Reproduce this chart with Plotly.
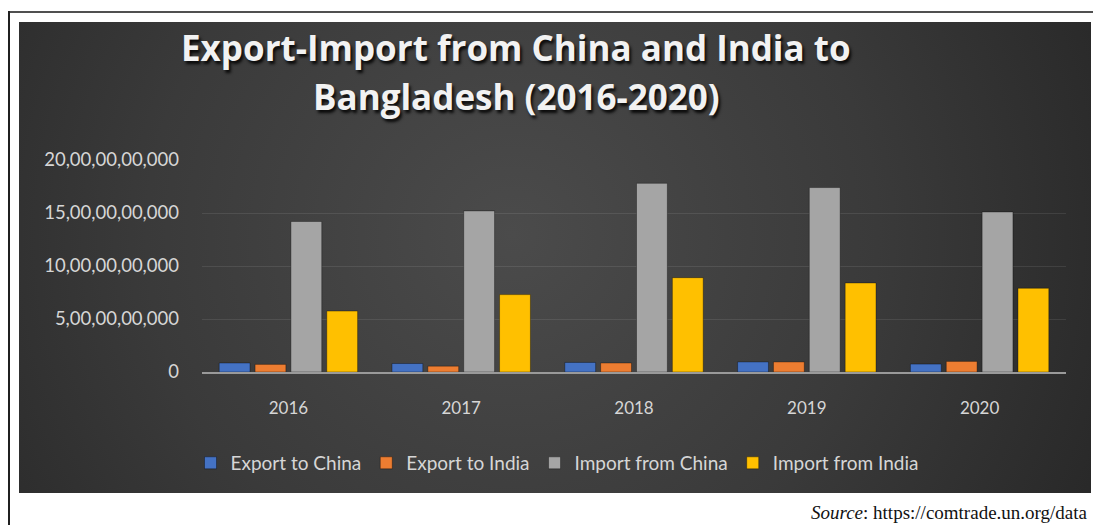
import base64
import plotly.graph_objects as go

years = ["2016", "2017", "2018", "2019", "2020"]
export_china = [0.85e9, 0.8e9, 0.9e9, 0.95e9, 0.75e9]
export_india = [0.72e9, 0.55e9, 0.85e9, 0.95e9, 1.0e9]
import_china = [14.2e9, 15.2e9, 17.8e9, 17.4e9, 15.1e9]
import_india = [5.75e9, 7.3e9, 8.9e9, 8.4e9, 7.9e9]

series_names = ["Export to China", "Export to India", "Import from China", "Import from India"]
series_colors = ["#4472C4", "#ED7D31", "#A5A5A5", "#FFC000"]

y_tickvals = [0, 5e9, 10e9, 15e9, 20e9]
y_ticktext = ["0", "5,00,00,00,000", "10,00,00,00,000", "15,00,00,00,000", "20,00,00,00,000"]

title_lines = ["Export-Import from China and India to", "Bangladesh (2016-2020)"]
source_text = "<i>Source</i>: https://comtrade.un.org/data"

W, H = 1093, 525
ML, MR, MT, MB = 202, 27, 160, 153
PW, PH = W - ML - MR, H - MT - MB

fig = go.Figure()
for name, vals, col in zip(series_names, [export_china, export_india, import_china, import_india], series_colors):
    fig.add_trace(go.Bar(x=years, y=vals, name=name,
                         marker=dict(color=col, line=dict(width=1, color="rgba(0,0,0,0.35)"))))

# Dark radial gradient panel as an SVG image
svg = """<svg xmlns='http://www.w3.org/2000/svg' width='1072' height='471' viewBox='0 0 1072 471' preserveAspectRatio='none'>
<defs><radialGradient id='g' cx='0.46' cy='0.45' r='0.62' gradientTransform='translate(0.46 0.45) scale(1 2.2) translate(-0.46 -0.45)'>
<stop offset='0' stop-color='#4b4b4b'/><stop offset='0.55' stop-color='#3a3a3a'/><stop offset='1' stop-color='#272727'/></radialGradient></defs>
<rect width='1072' height='471' fill='url(#g)'/></svg>"""
src = "data:image/svg+xml;base64," + base64.b64encode(svg.encode()).decode()

def px2x(px):
    return (px - ML) / PW

def py2y(py):
    return (H - MB - py) / PH

fig.add_layout_image(dict(source=src, xref="paper", yref="paper",
                          x=px2x(19), y=py2y(22), sizex=1072 / PW, sizey=471 / PH,
                          xanchor="left", yanchor="top", sizing="stretch", layer="below"))

# outer frame lines
fig.add_shape(type="line", xref="paper", yref="paper", x0=px2x(8), x1=px2x(1093), y0=py2y(12), y1=py2y(12),
              line=dict(color="#505050", width=2))
fig.add_shape(type="line", xref="paper", yref="paper", x0=px2x(9), x1=px2x(9), y0=py2y(11), y1=py2y(525),
              line=dict(color="#202020", width=2))

for line, cy in zip(title_lines, [47, 97]):
    fig.add_annotation(text=line, xref="paper", yref="paper", x=px2x(516), y=py2y(cy),
                       xanchor="center", yanchor="middle", showarrow=False,
                       font=dict(family="Open Sans", size=35, color="#f2f2f2", weight="bold",
                                 shadow="2px 3px 3px rgba(0,0,0,0.85)"))

fig.add_annotation(text=source_text, xref="paper", yref="paper",
                   x=px2x(1090), y=py2y(512), xanchor="right", yanchor="middle", showarrow=False,
                   font=dict(family="Liberation Serif", size=19, color="#111111"))

fig.update_layout(
    width=W, height=H,
    margin=dict(l=ML, r=MR, t=MT, b=MB, pad=0),
    paper_bgcolor="white", plot_bgcolor="rgba(0,0,0,0)",
    barmode="group", bargap=0.17, bargroupgap=0.14,
    font=dict(family="Lato", color="#d6d6d6"),
    legend=dict(orientation="h", x=px2x(557), xanchor="center", y=py2y(463), yanchor="middle",
                font=dict(family="Lato", size=19, color="#d6d6d6"), bgcolor="rgba(0,0,0,0)",
                traceorder="normal"),
    xaxis=dict(showgrid=False, showline=True, linecolor="#9a9a9a", linewidth=2, ticks="",
               tickfont=dict(size=17, color="#d6d6d6"), ticklabelstandoff=20, fixedrange=True),
    yaxis=dict(range=[0, 20e9], tickvals=y_tickvals, ticktext=y_ticktext, showgrid=True,
               gridcolor="rgba(255,255,255,0.09)", gridwidth=1, zeroline=False, showline=False,
               ticks="", tickfont=dict(size=18.5, color="#d6d6d6"), ticklabelstandoff=22),
    showlegend=True,
)

fig.write_html("out.html", config={"displayModeBar": False})
